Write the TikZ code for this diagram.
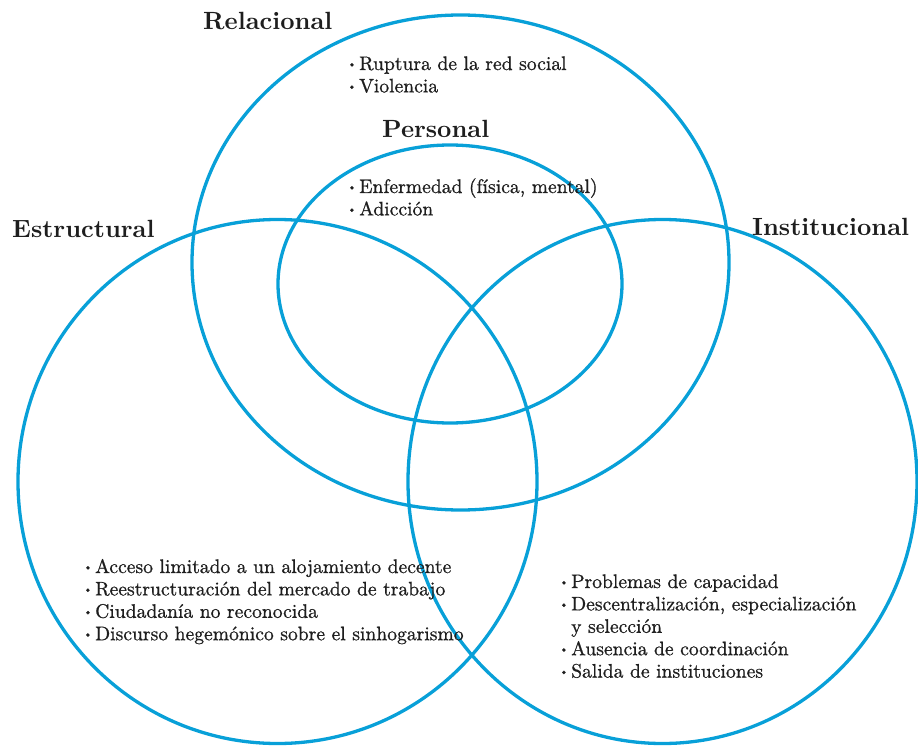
\documentclass[tikz,border=0pt]{standalone}
\usepackage{fontspec}
\newfontfamily\itemfont{lmroman10-regular}[Extension=.otf, FakeBold=0.8]
\newfontfamily\titlefont{lmroman10-bold}[Extension=.otf]
\definecolor{venn}{RGB}{8,160,216}
\definecolor{ink}{RGB}{30,30,30}
\newcommand{\bul}{\makebox[12pt][l]{\raisebox{0.12em}{\scalebox{0.62}{\textbullet}}}}
\tikzset{
  ring/.style={draw=venn, line width=3.3pt},
  title/.style={inner sep=0pt, anchor=base west, font=\titlefont\fontsize{24.9}{28}\selectfont, text=ink},
  items/.style={inner sep=0pt, anchor=base west, font=\itemfont\fontsize{19.6}{22.4}\selectfont, text=ink}
}
\begin{document}
\begin{tikzpicture}[x=1pt,y=-1pt]
\useasboundingbox (0,0) rectangle (918,746);
\draw[ring] (460.5,262.5) ellipse [x radius=268.5, y radius=247.5];
\draw[ring] (450,284) ellipse [x radius=172, y radius=139];
\draw[ring] (277.5,481.5) ellipse [x radius=259.5, y radius=262];
\draw[ring] (662.5,481.5) ellipse [x radius=254.5, y radius=262];

\node[title] (trel) at (203,30) {Relacional};
\node[title] (tper) at (382,138) {Personal};
\node[title] (test) at (12,237) {Estructural};
\node[title] (tins) at (752,236) {Institucional};

\node[items] (lrel) at (347,70) {\begin{tabular}[t]{@{}l@{}}
\bul Ruptura de la red social\\
\bul Violencia
\end{tabular}};
\node[items] (lper) at (347,193) {\begin{tabular}[t]{@{}l@{}}
\bul Enfermedad (física, mental)\\
\bul Adicción
\end{tabular}};
\node[items] (lest) at (83,573) {\begin{tabular}[t]{@{}l@{}}
\bul Acceso limitado a un alojamiento decente\\
\bul Reestructuración del mercado de trabajo\\
\bul Ciudadanía no reconocida\\
\bul Discurso hegemónico sobre el sinhogarismo
\end{tabular}};
\node[items] (lins) at (559,588) {\begin{tabular}[t]{@{}l@{}}
\bul Problemas de capacidad\\
\bul Descentralización, especialización\\
\hspace{12pt}y selección\\
\bul Ausencia de coordinación\\
\bul Salida de instituciones
\end{tabular}};
\end{tikzpicture}
\end{document}
